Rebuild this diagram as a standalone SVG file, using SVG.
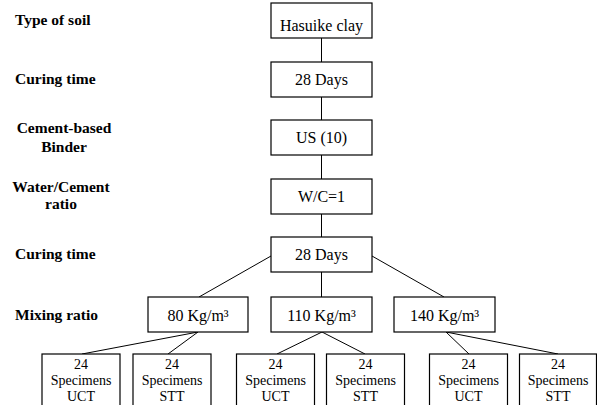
<svg xmlns="http://www.w3.org/2000/svg" width="597" height="405" viewBox="0 0 597 405">
<style>
rect{fill:#fff;stroke:#000;stroke-width:1.2}
text{fill:#000}
.lbl{font-weight:bold;font-size:15.5px}
.bx{font-size:16px;text-anchor:middle}
.sp{font-size:14px;text-anchor:middle}
#connectors line{stroke:#000;stroke-width:1}
</style>
<rect x="0" y="0" width="597" height="405" style="stroke:none"/>
<g font-family="'Liberation Serif', 'Times New Roman', serif">
<g id="labels">
<text class="lbl" x="15" y="25">Type of soil</text>
<text class="lbl" x="15" y="84">Curing time</text>
<text class="lbl" x="64" y="133" text-anchor="middle">Cement-based</text>
<text class="lbl" x="64" y="152" text-anchor="middle">Binder</text>
<text class="lbl" x="61" y="192" text-anchor="middle">Water/Cement</text>
<text class="lbl" x="61" y="209" text-anchor="middle">ratio</text>
<text class="lbl" x="15" y="259">Curing time</text>
<text class="lbl" x="15" y="320">Mixing ratio</text>
</g>
<g id="connectors">
<line x1="321.5" y1="38" x2="321.5" y2="62"/>
<line x1="321.5" y1="97" x2="321.5" y2="120"/>
<line x1="321.5" y1="155" x2="321.5" y2="179"/>
<line x1="321.5" y1="214" x2="321.5" y2="237"/>
<line x1="321.5" y1="272" x2="321.5" y2="297"/>
<line x1="271" y1="256" x2="199" y2="297"/>
<line x1="372" y1="256" x2="444" y2="297"/>
<line x1="198" y1="332" x2="82" y2="354"/>
<line x1="198" y1="332" x2="168" y2="354"/>
<line x1="322" y1="332" x2="277" y2="354"/>
<line x1="322" y1="332" x2="365" y2="354"/>
<line x1="446" y1="332" x2="469" y2="354"/>
<line x1="446" y1="332" x2="558" y2="354"/>
</g>
<g id="n-soil"><rect x="271" y="3" width="101" height="35"/><text class="bx" x="321.5" y="31">Hasuike clay</text></g>
<g id="n-cure1"><rect x="271" y="62" width="101" height="35"/><text class="bx" x="321.5" y="85">28 Days</text></g>
<g id="n-binder"><rect x="271" y="120" width="101" height="35"/><text class="bx" x="321.5" y="143">US (10)</text></g>
<g id="n-wc"><rect x="271" y="179" width="101" height="35"/><text class="bx" x="321.5" y="202">W/C=1</text></g>
<g id="n-cure2"><rect x="271" y="237" width="101" height="35"/><text class="bx" x="321.5" y="260">28 Days</text></g>
<g id="n-m80"><rect x="148" y="297" width="100" height="35"/><text class="bx" x="198" y="321">80 Kg/m³</text></g>
<g id="n-m110"><rect x="271" y="297" width="101" height="35"/><text class="bx" x="321.5" y="321">110 Kg/m³</text></g>
<g id="n-m140"><rect x="394" y="297" width="101" height="35"/><text class="bx" x="444.5" y="321">140 Kg/m³</text></g>
<g id="n-s1"><rect x="42" y="354" width="78" height="60"/><text class="sp" x="81" y="369">24</text><text class="sp" x="81" y="385">Specimens</text><text class="sp" x="81" y="401">UCT</text></g>
<g id="n-s2"><rect x="133" y="354" width="78" height="60"/><text class="sp" x="172" y="369">24</text><text class="sp" x="172" y="385">Specimens</text><text class="sp" x="172" y="401">STT</text></g>
<g id="n-s3"><rect x="236.5" y="354" width="78" height="60"/><text class="sp" x="275.5" y="369">24</text><text class="sp" x="275.5" y="385">Specimens</text><text class="sp" x="275.5" y="401">UCT</text></g>
<g id="n-s4"><rect x="326.5" y="354" width="78" height="60"/><text class="sp" x="365.5" y="369">24</text><text class="sp" x="365.5" y="385">Specimens</text><text class="sp" x="365.5" y="401">STT</text></g>
<g id="n-s5"><rect x="429.5" y="354" width="78" height="60"/><text class="sp" x="468.5" y="369">24</text><text class="sp" x="468.5" y="385">Specimens</text><text class="sp" x="468.5" y="401">UCT</text></g>
<g id="n-s6"><rect x="519.5" y="354" width="77" height="60"/><text class="sp" x="558" y="369">24</text><text class="sp" x="558" y="385">Specimens</text><text class="sp" x="558" y="401">STT</text></g>
</g>
</svg>
